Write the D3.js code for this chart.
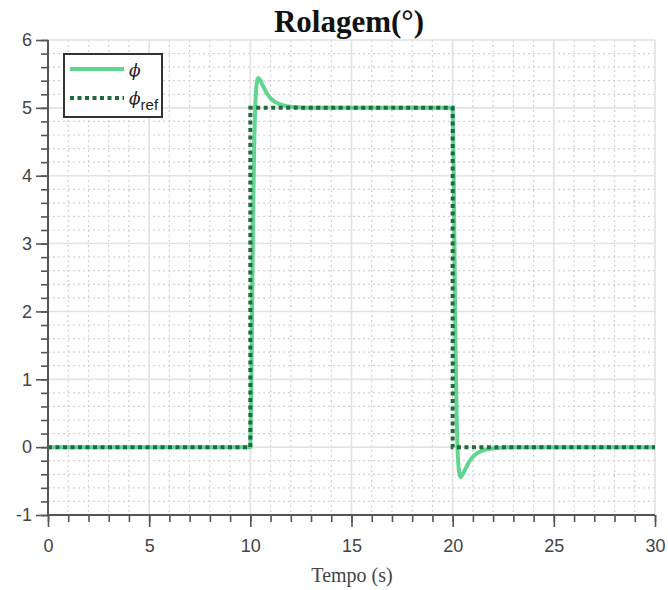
<!DOCTYPE html>
<html>
<head>
<meta charset="utf-8">
<script src="https://cdn.jsdelivr.net/npm/d3@7"></script>
<style>
  html, body { margin: 0; padding: 0; background: #fff; }
  svg { display: block; }
</style>
</head>
<body>
<svg id="chart" width="668" height="590"></svg>
<script>
// Roll angle response (phi) and its step reference (phi_ref), degrees vs time in seconds
const time = [0, 10, 10.05, 10.1, 10.15, 10.2, 10.25, 10.3, 10.35, 10.4, 10.5, 10.6, 10.7, 10.8, 11.0, 11.2, 11.4, 11.6, 11.8, 12.0, 12.5, 13,
              20, 20.05, 20.1, 20.15, 20.2, 20.25, 20.3, 20.35, 20.4, 20.5, 20.6, 20.7, 20.8, 21.0, 21.2, 21.4, 21.6, 21.8, 22.0, 22.5, 23, 30];
const phi = [0, 0, 0.9, 2.4, 3.7, 4.6, 5.1, 5.33, 5.42, 5.44, 5.40, 5.34, 5.28, 5.22, 5.14, 5.09, 5.06, 5.04, 5.025, 5.015, 5.005, 5.0,
             5.0, 4.1, 2.6, 1.3, 0.4, -0.1, -0.33, -0.42, -0.44, -0.40, -0.34, -0.28, -0.22, -0.14, -0.09, -0.06, -0.04, -0.025, -0.015, -0.005, 0, 0];
const timeRef = [0, 10, 20, 30];
const phiRef = [0, 5, 0, 0];

const xTicks = [0, 5, 10, 15, 20, 25, 30];
const yTicks = [-1, 0, 1, 2, 3, 4, 5, 6];

const title = "Rolagem(°)";
const xLabel = "Tempo (s)";

const svg = d3.select("#chart");
const m = { left: 48, right: 655, top: 40, bottom: 515 };

const x = d3.scaleLinear().domain([0, 30]).range([m.left, m.right]);
const y = d3.scaleLinear().domain([-1, 6]).range([m.bottom, m.top]);

const xMinor = d3.range(0, 30.001, 1);
const yMinor = d3.range(-1, 6.001, 0.2).map(v => +v.toFixed(2));
const plainNum = d => String(d);

// minor dotted grid
const grid = svg.append("g");
grid.selectAll(".vmin").data(xMinor.filter(v => v % 5 !== 0)).join("line")
  .attr("x1", d => x(d)).attr("x2", d => x(d))
  .attr("y1", m.top).attr("y2", m.bottom)
  .attr("stroke", "#d2d2d2").attr("stroke-width", 1.2).attr("stroke-dasharray", "2,3");
grid.selectAll(".hmin").data(yMinor.filter(v => Math.abs(v - Math.round(v)) > 1e-6)).join("line")
  .attr("x1", m.left).attr("x2", m.right)
  .attr("y1", d => y(d)).attr("y2", d => y(d))
  .attr("stroke", "#d2d2d2").attr("stroke-width", 1.2).attr("stroke-dasharray", "2,3");

// major solid grid
grid.selectAll(".vmaj").data(xTicks).join("line")
  .attr("x1", d => x(d)).attr("x2", d => x(d))
  .attr("y1", m.top).attr("y2", m.bottom)
  .attr("stroke", "#e2e2e2").attr("stroke-width", 1.6);
grid.selectAll(".hmaj").data(yTicks).join("line")
  .attr("x1", m.left).attr("x2", m.right)
  .attr("y1", d => y(d)).attr("y2", d => y(d))
  .attr("stroke", "#e2e2e2").attr("stroke-width", 1.6);

// series
const line = d3.line().x((d, i) => x(time[i])).y(d => y(d));
svg.append("path").datum(phi)
  .attr("d", line)
  .attr("fill", "none").attr("stroke", "#62d491").attr("stroke-width", 4)
  .attr("stroke-linejoin", "round");

const refLine = d3.line().x((d, i) => x(timeRef[i])).y(d => y(d)).curve(d3.curveStepAfter);
svg.append("path").datum(phiRef)
  .attr("d", refLine)
  .attr("fill", "none").attr("stroke", "#1d6b3b").attr("stroke-width", 4)
  .attr("stroke-dasharray", "4,3.5");

// axes
const axisColor = "#555";
const tickFont = "Liberation Sans, Arial, sans-serif";
const gx = svg.append("g").attr("transform", `translate(0,${m.bottom})`);
gx.call(d3.axisBottom(x).tickValues(xMinor).tickSize(7).tickFormat(""));
gx.selectAll(".tick line").attr("stroke", axisColor).attr("stroke-width", 1.6);
gx.select(".domain").remove();
const gxMaj = svg.append("g").attr("transform", `translate(0,${m.bottom})`)
  .call(d3.axisBottom(x).tickValues(xTicks).tickSize(12).tickPadding(12).tickFormat(plainNum));
gxMaj.select(".domain").attr("stroke", axisColor).attr("stroke-width", 2).attr("d", `M${m.left},0H${m.right}`);
gxMaj.selectAll(".tick line").attr("stroke", axisColor).attr("stroke-width", 1.6);
gxMaj.selectAll("text").attr("fill", "#444").attr("font-size", 18).attr("font-family", tickFont);

const gy = svg.append("g").attr("transform", `translate(${m.left},0)`);
gy.call(d3.axisLeft(y).tickValues(yMinor).tickSize(7).tickFormat(""));
gy.selectAll(".tick line").attr("stroke", axisColor).attr("stroke-width", 1.6);
gy.select(".domain").remove();
const gyMaj = svg.append("g").attr("transform", `translate(${m.left},0)`)
  .call(d3.axisLeft(y).tickValues(yTicks).tickSize(12).tickPadding(4).tickFormat(plainNum));
gyMaj.select(".domain").attr("stroke", axisColor).attr("stroke-width", 2).attr("d", `M0,${m.top}V${m.bottom}`);
gyMaj.selectAll(".tick line").attr("stroke", axisColor).attr("stroke-width", 1.6);
gyMaj.selectAll("text").attr("fill", "#444").attr("font-size", 18).attr("font-family", tickFont);

// title & axis label
svg.append("text").attr("x", 349).attr("y", 32).attr("text-anchor", "middle")
  .attr("font-family", "Liberation Serif, serif").attr("font-weight", "bold")
  .attr("font-size", 31).attr("fill", "#111").text(title);
svg.append("text").attr("x", 352).attr("y", 582).attr("text-anchor", "middle")
  .attr("font-family", "Liberation Serif, serif").attr("font-size", 20)
  .attr("fill", "#444").text(xLabel);

// legend
const lg = svg.append("g");
lg.append("rect").attr("x", 64).attr("y", 54).attr("width", 98).attr("height", 63)
  .attr("fill", "#fff").attr("stroke", "#333").attr("stroke-width", 2);
lg.append("line").attr("x1", 70).attr("x2", 124).attr("y1", 69).attr("y2", 69)
  .attr("stroke", "#62d491").attr("stroke-width", 4);
lg.append("line").attr("x1", 70).attr("x2", 124).attr("y1", 98).attr("y2", 98)
  .attr("stroke", "#1d6b3b").attr("stroke-width", 4).attr("stroke-dasharray", "4,3.5");
lg.append("text").attr("x", 129).attr("y", 76)
  .attr("font-family", "DejaVu Serif, serif").attr("font-style", "italic")
  .attr("font-size", 17).attr("fill", "#222").text("ϕ");
const t2 = lg.append("text").attr("x", 129).attr("y", 104)
  .attr("font-family", "DejaVu Serif, serif").attr("font-style", "italic")
  .attr("font-size", 17).attr("fill", "#222");
t2.append("tspan").text("ϕ");
t2.append("tspan").attr("dy", 6).attr("font-style", "normal")
  .attr("font-family", tickFont).attr("font-size", 15).text("ref");
</script>
</body>
</html>
